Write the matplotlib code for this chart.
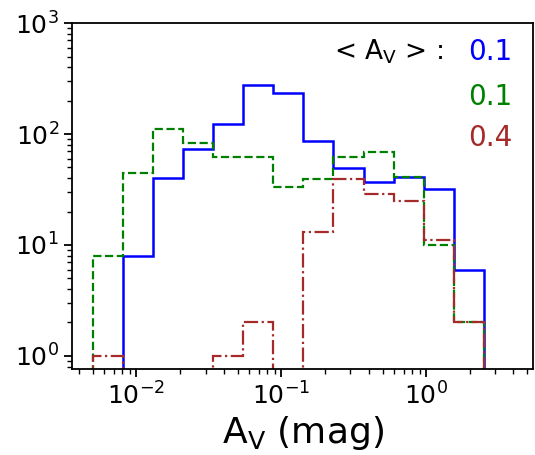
import numpy as np
import matplotlib
matplotlib.use('Agg')
import matplotlib.pyplot as plt

#%%

params = {
   'font.size': 18,
   'xtick.labelsize': 18,
   'ytick.labelsize': 18,
   'mathtext.default': 'regular',
   'xtick.major.size': 6,
   'ytick.major.size': 6,
   'xtick.minor.size': 3.5,
   'ytick.minor.size': 3.5,
   'xtick.major.width': 1.3,
   'ytick.major.width': 1.3,
   'xtick.minor.width': 1.0,
   'ytick.minor.width': 1.0,
   'axes.linewidth': 1.3,
   }
plt.rcParams.update(params)

#%%

# log-spaced bin edges in A_V (mag)
edges = np.logspace(np.log10(0.005), np.log10(2.5), 14)

counts_blue = [0, 8, 40, 73, 123, 276, 234, 86, 49, 37, 41, 32, 6]
counts_green = [8, 45, 111, 83, 62, 62, 33, 39, 62, 69, 41, 10, 2]
counts_red = [1, 0, 0, 0, 1, 2, 0, 13, 39, 29, 25, 11, 2]

mean_labels = ['0.1', '0.1', '0.4']

#%%

fig = plt.figure(figsize=(5.35, 4.55), dpi=100)
ax = fig.add_axes([0.135, 0.189, 0.862, 0.760])

ax.stairs(counts_blue, edges, color='blue', lw=1.8, ls='-')
ax.stairs(counts_green, edges, color='green', lw=1.6, ls='--')
ax.stairs(counts_red, edges, color='brown', lw=1.6, ls='-.')

ax.set_xscale('log')
ax.set_yscale('log')
ax.set_xlim(0.0036, 5.5)
ax.set_ylim(0.76, 1000)

ax.set_xlabel('A$_V$ (mag)', fontsize=26, labelpad=3)

ax.text(0.828, 0.886, '< A$_V$ > :', transform=fig.transFigure, fontsize=19,
        ha='right', va='center')
for lab, col, yy in zip(mean_labels, ['blue', 'green', 'brown'],
                        [0.886, 0.787, 0.697]):
    ax.text(0.916, yy, lab, transform=fig.transFigure, fontsize=20,
            color=col, ha='center', va='center')

plt.savefig('out.png', dpi=100)
